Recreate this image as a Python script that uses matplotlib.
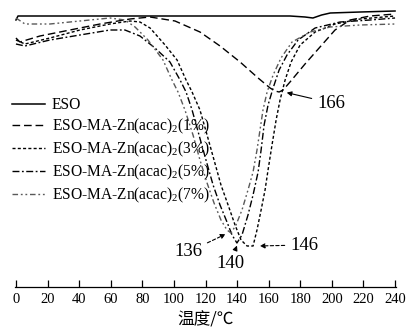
import numpy as np
import matplotlib
matplotlib.use('Agg')
import matplotlib.pyplot as plt

plt.rcParams['font.family'] = ['Liberation Serif', 'Noto Sans CJK SC']
plt.rcParams['mathtext.fontset'] = 'custom'
plt.rcParams['mathtext.rm'] = 'Liberation Serif'

# DSC curves: temperature (°C) and heat flow (arbitrary units, exo down)
t_eso  = [0, 1.3, 53, 116.5, 173.5, 183, 188, 193.5, 199, 218, 240]
hf_eso = [26.7, 27.1, 27.1, 27.1, 27.1, 27.0, 26.9, 27.2, 27.4, 27.5, 27.6]

t_1  = [0, 2.5, 15.2, 34.2, 53.2, 72.2, 84.9, 100.7, 116.5, 129.2, 141.9, 153.3,
        160.9, 164, 166.6, 169.1, 173.5, 183, 192.5, 202, 211.5, 224.2, 240]
hf_1 = [24.9, 24.5, 25.1, 25.7, 26.3, 26.8, 27.0, 26.6, 25.5, 24.1, 22.5, 20.9,
        19.9, 19.6, 19.5, 19.7, 20.5, 22.3, 24.0, 25.7, 26.7, 27.1, 27.3]

t_3  = [0, 5.7, 21.5, 40.5, 59.5, 72.2, 78.5, 84.9, 94.4, 102, 107.7, 111.5,
        116.5, 121, 125.4, 129.8, 134.3, 138.7, 142.5, 146.3, 150.1, 152.6,
        155.2, 157.7, 159.6, 162.1, 164.7, 167.2, 170.4, 174.2, 179.9, 189.4,
        202, 217.9, 240]
hf_3 = [24.7, 24.3, 24.9, 25.7, 26.3, 26.6, 26.5, 25.9, 24.2, 22.7, 20.7, 19.5,
        17.7, 15.2, 12.7, 10.2, 8.2, 6.2, 4.7, 4.1, 4.1, 5.7,
        7.7, 9.7, 11.7, 14.2, 16.7, 18.7, 20.7, 22.5, 24.2, 25.5,
        26.3, 26.8, 27.1]

t_5  = [0, 5.7, 21.5, 40.5, 59.5, 69, 78.5, 88, 97.5, 103.9, 107.7, 111.5,
        115.9, 120.3, 124.8, 129.2, 133.6, 136.8, 139.9, 143.1, 146.9, 150.1,
        153.3, 155.2, 157.1, 159.6, 162.8, 166.6, 171.6, 178.6, 189.4, 205.2,
        224.2, 240]
hf_5 = [24.3, 24.1, 24.7, 25.2, 25.7, 25.7, 25.1, 23.9, 22.5, 20.7, 19.5, 17.7,
        15.2, 12.7, 10.2, 8.2, 6.5, 5.2, 4.4, 5.2, 7.2, 9.2,
        11.5, 13.7, 16.2, 18.2, 19.9, 21.7, 23.2, 24.7, 25.9, 26.5,
        26.7, 26.9]

t_7  = [0, 5.7, 21.5, 40.5, 59.5, 69, 75.4, 83.6, 93.1, 98.8, 102.6, 107,
        112.1, 116.5, 121, 125.4, 129.8, 133.6, 136.2, 139.3, 143.1, 146.9,
        150.1, 152.6, 154.5, 156.4, 159, 162.8, 167.8, 174.8, 186.2, 198.9,
        217.9, 240]
hf_7 = [26.9, 26.3, 26.3, 26.6, 26.9, 26.7, 26.0, 24.7, 22.7, 20.7, 19.5, 17.7,
        15.2, 12.7, 10.4, 8.4, 6.7, 5.7, 5.4, 6.2, 7.7, 9.7,
        11.5, 13.7, 15.7, 17.7, 19.5, 21.2, 22.9, 24.5, 25.5, 26.0,
        26.2, 26.3]

labels = ['ESO',
          r'ESO-MA-Zn(acac)$_2$(1%)',
          r'ESO-MA-Zn(acac)$_2$(3%)',
          r'ESO-MA-Zn(acac)$_2$(5%)',
          r'ESO-MA-Zn(acac)$_2$(7%)']

fig = plt.figure(figsize=(4.15, 3.3), dpi=100)
ax = fig.add_axes([15/415, 43/330, 381/415, 287/330])

ax.plot(t_eso, hf_eso, color='k', lw=1.1, label=labels[0])
ax.plot(t_1, hf_1, color='k', lw=1.0, dashes=(5.5, 2.8), label=labels[1])
ax.plot(t_3, hf_3, color='k', lw=1.0, dashes=(2.2, 1.6), label=labels[2])
ax.plot(t_5, hf_5, color='k', lw=1.0, dashes=(5, 1.8, 1.3, 1.8), label=labels[3])
ax.plot(t_7, hf_7, color='0.35', lw=1.0, dashes=(4, 2, 1.3, 2, 1.3, 2), label=labels[4])

# peak annotations
solid = dict(arrowstyle='-|>', color='k', lw=0.8, mutation_scale=7)
dashed = dict(arrowstyle='-|>', color='k', lw=0.8, ls=(0, (3, 2)), mutation_scale=7)
ax.annotate('166', xy=(169.7, 19.5), xytext=(199.5, 18.4), fontsize=13.5,
            ha='center', va='center', arrowprops=solid)
ax.annotate('136', xy=(134.3, 5.4), xytext=(109, 3.5), fontsize=13.5,
            ha='center', va='center', arrowprops=dashed)
ax.annotate('140', xy=(140.6, 4.4), xytext=(135.5, 2.4), fontsize=13.5,
            ha='center', va='center', arrowprops=solid)
ax.annotate('146', xy=(152.6, 4.1), xytext=(182.5, 4.2), fontsize=13.5,
            ha='center', va='center', arrowprops=dashed)

ax.set_xlim(-0.6, 240.6)
ax.set_ylim(0, 28.7)
ax.set_xticks(np.arange(0, 241, 20))
ax.set_yticks([])
for s in ['left', 'right', 'top']:
    ax.spines[s].set_visible(False)
ax.spines['bottom'].set_linewidth(0.9)
ax.tick_params(axis='x', direction='in', length=5, width=0.9, labelsize=10.5, pad=4)
ax.set_xlabel('温度/℃', fontsize=12, family=['Noto Sans CJK SC'], labelpad=4)

ax.legend(loc='upper left', bbox_to_anchor=(12/415, 1 - 97/330),
          bbox_transform=fig.transFigure, frameon=False, fontsize=11.2,
          handlelength=2.15, handletextpad=0.4, labelspacing=0.25,
          borderpad=0, borderaxespad=0)

fig.savefig('out.png', dpi=100)
